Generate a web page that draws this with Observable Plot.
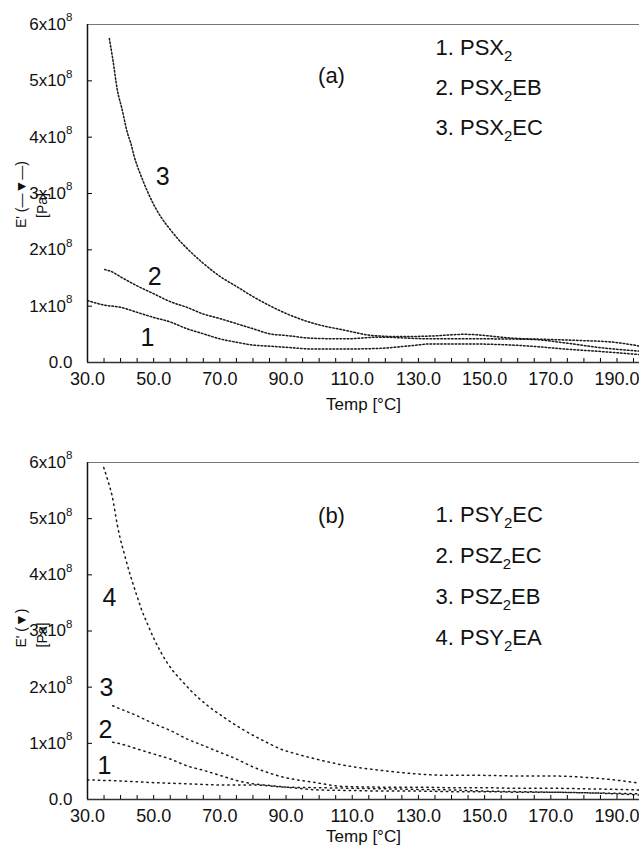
<!DOCTYPE html>
<html><head><meta charset="utf-8">
<script src="https://cdn.jsdelivr.net/npm/d3@7"></script>
<script src="https://cdn.jsdelivr.net/npm/@observablehq/plot@0.6"></script>
<style>
html,body{margin:0;padding:0;background:#fff;}
body{width:639px;height:848px;overflow:hidden;position:relative;font-family:"Liberation Sans",Arial,sans-serif;}
.panel{position:absolute;left:0;width:639px;}
</style></head><body>
<div id="pa" class="panel" style="top:0"></div>
<div id="pb" class="panel" style="top:424px"></div>
<script>
// ---------- Panel (a) data: Temp [°C], E' [10^8 Pa] ----------
const a1T = [30,35,40,45,50,55,60,65,70,75,80,85,90,98,108,118,128,134,144,154,164,174,184,197];
const a1E = [1.10,1.02,0.98,0.89,0.80,0.72,0.60,0.51,0.42,0.36,0.31,0.29,0.27,0.24,0.24,0.25,0.30,0.33,0.33,0.32,0.29,0.24,0.20,0.14];
const a2T = [35.2,37,40,45,50,55,60,65,70,75,80,85,90,98,108,118,134,149,164,174,184,197];
const a2E = [1.65,1.62,1.52,1.36,1.22,1.08,0.98,0.86,0.78,0.69,0.60,0.51,0.48,0.43,0.42,0.45,0.42,0.42,0.41,0.35,0.27,0.20];
const a3T = [36.6,37.6,39.1,40.3,42.1,43,44.2,46,48.1,49.6,52,55,58,60,65,70,75,80,85,90,98,108,116,124,134,144,159,169,179,189,197];
const a3E = [5.75,5.40,4.81,4.53,4.07,3.91,3.64,3.34,3.04,2.85,2.60,2.36,2.15,2.03,1.76,1.53,1.35,1.17,1.01,0.87,0.70,0.57,0.48,0.46,0.47,0.50,0.43,0.41,0.39,0.36,0.29];
const aLegend = ["1. PSX₂","2. PSX₂EB","3. PSX₂EC"];
const aCurveLabels = ["3","2","1"];
const aCurveLabelT = [52.7,50.3,48.1];
const aCurveLabelE = [3.29,1.51,0.44];

// ---------- Panel (b) data ----------
const b1T = [30,35,40,50,60,70,80,90,100,110,120,130,140,150,160,170,180,190,197];
const b1E = [0.35,0.34,0.33,0.30,0.28,0.26,0.26,0.22,0.21,0.20,0.19,0.18,0.17,0.15,0.14,0.13,0.12,0.10,0.08];
const b2T = [37.6,40,45,50,55,60,65,70,75,80,85,90,100,110,120,130,140,150,160,170,180,190,197];
const b2E = [1.02,0.99,0.90,0.81,0.72,0.60,0.52,0.43,0.34,0.28,0.25,0.22,0.17,0.16,0.15,0.15,0.14,0.14,0.13,0.13,0.12,0.11,0.10];
const b3T = [37.6,40,45,50,55,60,65,70,75,80,85,89,98,108,120,130,140,150,160,170,180,190,197];
const b3E = [1.67,1.61,1.49,1.35,1.23,1.08,0.96,0.84,0.72,0.58,0.47,0.40,0.31,0.23,0.22,0.22,0.21,0.21,0.20,0.20,0.19,0.18,0.17];
const b4T = [34.9,36.1,37.5,39,39.8,41,42.8,43.7,44.8,46.1,48.3,50.1,52.1,55.7,58.7,61.2,65.7,71.3,77.4,84.4,88.3,92,98.4,108.5,118.5,128.6,138.6,148.7,158.7,168.8,178.9,189,197];
const b4E = [5.91,5.69,5.39,4.89,4.67,4.40,4.02,3.85,3.65,3.42,3.10,2.86,2.63,2.30,2.10,1.94,1.70,1.46,1.23,1.01,0.90,0.83,0.73,0.60,0.52,0.46,0.43,0.43,0.42,0.42,0.40,0.35,0.29];
const bLegend = ["1. PSY₂EC","2. PSZ₂EC","3. PSZ₂EB","4. PSY₂EA"];
const bCurveLabels = ["4","3","2","1"];
const bCurveLabelT = [36.6,35.7,35.4,35.1];
const bCurveLabelE = [3.59,1.98,1.23,0.60];

// ---------- ticks ----------
const xLabelTicks = [30,50,70,90,110,130,150,170,190];
const xMinorTicks = d3.range(30,200,5);
const yTicks = [0,1,2,3,4,5,6];
const xDomain = [30,196.8];
const yDomain = [0,6];

const toRows = (T,E) => T.map((t,i)=>({T:t,E:E[i]}));
const yFmt = d => d === 0 ? "0.0" : d + "x10⁸";

const FONT = "Liberation Sans, Arial, sans-serif";
const W = 639, H = 424;

function panel({series, dash, thin, legend, legendDy, legendStep, tag, tagDy, labels, mT, mB, ylab, ylabDy, paDy, tempDy}) {
  const plotH = H - mT - mB;
  const plotW = W - 87;
  const marks = [];
  if (thin) series.forEach(s => marks.push(Plot.line(s, {x:"T", y:"E", stroke:"#9a9a9a", strokeWidth:0.6, curve:"monotone-x"})));
  series.forEach(s => marks.push(Plot.line(s, {x:"T", y:"E", stroke:"#1a1a1a", strokeWidth:1.5, strokeDasharray:dash, curve:"monotone-x"})));
  marks.push(
    Plot.gridX(xMinorTicks, {stroke:"#000", strokeOpacity:1, strokeWidth:1, insetTop: plotH - 4}),
    Plot.gridY(yTicks, {stroke:"#000", strokeOpacity:1, strokeWidth:1, insetRight: plotW - 5}),
    Plot.ruleY([yDomain[1]], {stroke:"#777", strokeWidth:1}),
    Plot.ruleY([0], {stroke:"#333", strokeWidth:1.3}),
    Plot.ruleX([xDomain[0]], {stroke:"#111", strokeWidth:1.5}),
    Plot.axisX({ticks:xLabelTicks, tickSize:0, tickPadding:10, tickFormat:d=>d.toFixed(1), fontSize:18, label:null}),
    Plot.axisY({ticks:yTicks, tickSize:0, tickPadding:15, tickFormat:yFmt, fontSize:17, label:null}),
    Plot.text(["Temp [°C]"], {frameAnchor:"bottom", dy:tempDy, fontSize:17, fill:"#111", textAnchor:"middle", lineAnchor:"middle"}),
    Plot.text([ylab], {frameAnchor:"left", dx:-66, dy:ylabDy, rotate:-90, fontSize:14, fill:"#111", textAnchor:"middle", lineAnchor:"middle"}),
    Plot.text(["[Pa]"], {frameAnchor:"left", dx:-45, dy:paDy, rotate:-90, fontSize:14, fill:"#111", textAnchor:"middle", lineAnchor:"middle"}),
    Plot.text([tag], {frameAnchor:"top-left", dx:244, dy:tagDy, fontSize:22, fill:"#111", textAnchor:"middle", lineAnchor:"middle"}),
    ...legend.map((t,i)=>Plot.text([t], {frameAnchor:"top-left", dx:348, dy:legendDy + i*legendStep, textAnchor:"start", lineAnchor:"middle", fontSize:22, fill:"#111"})),
    Plot.text(labels.text, {x:(d,i)=>labels.T[i], y:(d,i)=>labels.E[i], fontSize:25, fill:"#111"})
  );
  return Plot.plot({
    width: W, height: H,
    marginLeft: 87, marginRight: 0, marginTop: mT, marginBottom: mB,
    style: {fontFamily: FONT, color:"#111", background:"#fff", overflow:"visible"},
    x: {domain: xDomain},
    y: {domain: yDomain},
    marks
  });
}

function richify(svg) {
  const NS = "http://www.w3.org/2000/svg";
  d3.select(svg).selectAll("text").each(function() {
    const el = this;
    if (el.querySelector("tspan")) return;
    const s = el.textContent;
    if (!/[₂⁸]/.test(s)) return;
    el.textContent = "";
    let cur = document.createElementNS(NS,"tspan");
    el.appendChild(cur);
    for (const ch of s) {
      if (ch === "₂" || ch === "⁸") {
        const d = ch === "₂" ? 0.3 : -0.5;
        const t = document.createElementNS(NS,"tspan");
        t.textContent = ch === "₂" ? "2" : "8";
        t.setAttribute("font-size","0.68em");
        t.setAttribute("dy", (d/0.68).toFixed(3) + "em");
        el.appendChild(t);
        cur = document.createElementNS(NS,"tspan");
        cur.setAttribute("dy", (-d).toFixed(3) + "em");
        el.appendChild(cur);
      } else {
        cur.textContent += ch;
      }
    }
  });
}

const pa = panel({
  series: [toRows(a1T,a1E), toRows(a2T,a2E), toRows(a3T,a3E)],
  dash: "1.4,2.2", thin: true,
  legend: aLegend, legendDy: 23, legendStep: 40, tag: "(a)", tagDy: 51,
  labels: {text: aCurveLabels, T: aCurveLabelT, E: aCurveLabelE},
  mT: 24, mB: 62, ylab: "E' (—▼—)", ylabDy: 1, paDy: 12, tempDy: 42
});
const pb = panel({
  series: [toRows(b1T,b1E), toRows(b2T,b2E), toRows(b3T,b3E), toRows(b4T,b4E)],
  dash: "1.4,4", thin: false,
  legend: bLegend, legendDy: 52, legendStep: 41, tag: "(b)", tagDy: 53,
  labels: {text: bCurveLabels, T: bCurveLabelT, E: bCurveLabelE},
  mT: 38, mB: 49, ylab: "E' (▼)", ylabDy: -3, paDy: 4, tempDy: 37
});
richify(pa); richify(pb);
document.getElementById("pa").appendChild(pa);
document.getElementById("pb").appendChild(pb);
</script>
</body></html>
